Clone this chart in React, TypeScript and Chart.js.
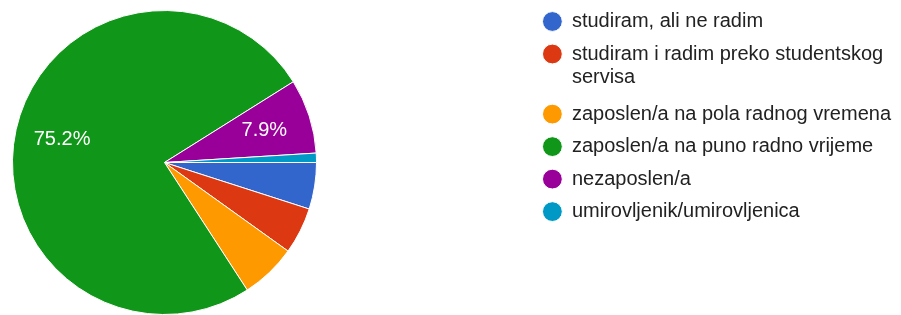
import { useEffect, useRef } from 'react';
import { Chart, registerables } from 'chart.js';

Chart.register(...registerables);

const categories: (string | string[])[] = [
  'studiram, ali ne radim',
  ['studiram i radim preko studentskog', 'servisa'],
  'zaposlen/a na pola radnog vremena',
  'zaposlen/a na puno radno vrijeme',
  'nezaposlen/a',
  'umirovljenik/umirovljenica',
];
const responses = [5, 5, 6, 76, 8, 1];
const sliceColors = ['#3366cc', '#dc3912', '#ff9900', '#109618', '#990099', '#0099c6'];

const FONT = '"Liberation Sans", Arial, sans-serif';

const pieArea = {
  id: 'pieArea',
  afterLayout(chart: any) {
    const a = chart.chartArea;
    a.left = 12;
    a.top = 10;
    a.right = 317;
    a.bottom = 315;
    a.width = a.right - a.left;
    a.height = a.bottom - a.top;
  },
};

const sliceLabels = {
  id: 'sliceLabels',
  afterDatasetsDraw(chart: any) {
    const ctx = chart.ctx;
    const meta = chart.getDatasetMeta(0);
    const values = chart.data.datasets[0].data as number[];
    const total = values.reduce((s, v) => s + v, 0);
    ctx.save();
    ctx.fillStyle = '#ffffff';
    ctx.font = `20px ${FONT}`;
    ctx.textAlign = 'center';
    ctx.textBaseline = 'middle';
    meta.data.forEach((arc: any, i: number) => {
      const share = values[i] / total;
      if (share < 0.07) return;
      const { x, y, startAngle, endAngle, outerRadius } = arc.getProps(
        ['x', 'y', 'startAngle', 'endAngle', 'outerRadius'],
        true
      );
      const mid = (startAngle + endAngle) / 2;
      const r = outerRadius * 0.69;
      ctx.fillText((share * 100).toFixed(1) + '%', x + Math.cos(mid) * r, y + Math.sin(mid) * r);
    });
    ctx.restore();
  },
};

export default function App() {
  const canvasRef = useRef<HTMLCanvasElement | null>(null);

  useEffect(() => {
    if (!canvasRef.current) return;
    const chart = new Chart(canvasRef.current, {
      type: 'pie',
      data: {
        labels: categories as any,
        datasets: [
          {
            data: responses,
            backgroundColor: sliceColors,
            borderColor: '#ffffff',
            borderWidth: 1,
          },
        ],
      },
      options: {
        responsive: false,
        animation: false,
        rotation: 90,
        layout: { padding: { top: -1 } },
        plugins: {
          legend: {
            position: 'right',
            align: 'start',
            labels: {
              usePointStyle: true,
              pointStyle: 'circle',
              boxWidth: 19,
              boxHeight: 14,
              padding: 12.5,
              color: '#222222',
              font: { family: FONT, size: 20, lineHeight: 1.19 },
            },
          },
          tooltip: { enabled: false },
        },
      } as any,
      plugins: [pieArea, sliceLabels],
    });
    return () => chart.destroy();
  }, []);

  return (
    <div style={{ position: 'absolute', left: 0, top: 0, width: 901, height: 315, background: '#fff' }}>
      <canvas ref={canvasRef} width={901} height={315} style={{ display: 'block' }} />
    </div>
  );
}
